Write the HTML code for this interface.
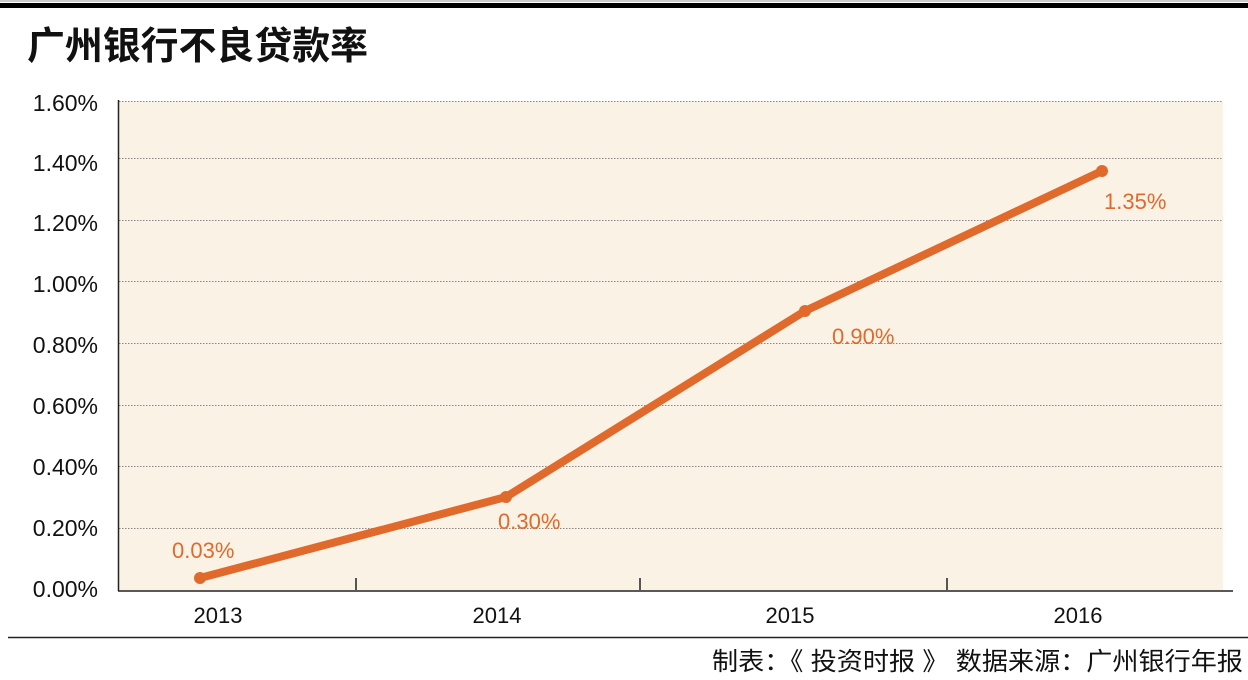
<!DOCTYPE html>
<html><head><meta charset="utf-8"><style>
body{margin:0;background:#fff;}
svg{display:block;}
</style></head><body>
<svg width="1248" height="680" xmlns="http://www.w3.org/2000/svg" font-family="'Liberation Sans','Noto Sans CJK SC',sans-serif">
<rect x="0" y="0" width="1248" height="2" fill="#ccc"/>
<rect x="0" y="3" width="1248" height="5" fill="#000"/>
<text x="27" y="59" font-size="38" font-weight="bold" fill="#111" textLength="341" lengthAdjust="spacingAndGlyphs">广州银行不良贷款率</text>
<rect x="119" y="101" width="1104" height="489" fill="#fbf2e6"/>
<g stroke="#888" stroke-width="1" stroke-dasharray="1.5,1.5">
<line x1="119" x2="1223" y1="101.5" y2="101.5"/>
<line x1="119" x2="1223" y1="158.5" y2="158.5"/>
<line x1="119" x2="1223" y1="220.5" y2="220.5"/>
<line x1="119" x2="1223" y1="281.5" y2="281.5"/>
<line x1="119" x2="1223" y1="343.5" y2="343.5"/>
<line x1="119" x2="1223" y1="405.5" y2="405.5"/>
<line x1="119" x2="1223" y1="466.5" y2="466.5"/>
<line x1="119" x2="1223" y1="528.5" y2="528.5"/>
</g>
<line x1="118.5" y1="100" x2="118.5" y2="591" stroke="#222" stroke-width="1.5"/>
<line x1="118" y1="591" x2="1233" y2="591" stroke="#222" stroke-width="1.5"/>
<g stroke="#222" stroke-width="1.5">
<line x1="356" y1="578" x2="356" y2="590"/>
<line x1="640" y1="578" x2="640" y2="590"/>
<line x1="947" y1="578" x2="947" y2="590"/>
</g>
<g font-size="23" fill="#111" text-anchor="end">
<text x="98" y="111">1.60%</text>
<text x="98" y="171">1.40%</text>
<text x="98" y="231">1.20%</text>
<text x="98" y="292">1.00%</text>
<text x="98" y="353">0.80%</text>
<text x="98" y="414">0.60%</text>
<text x="98" y="475">0.40%</text>
<text x="98" y="536">0.20%</text>
<text x="98" y="597">0.00%</text>
</g>
<g font-size="22" fill="#111" text-anchor="middle">
<text x="218" y="623">2013</text>
<text x="497" y="623">2014</text>
<text x="790" y="623">2015</text>
<text x="1078" y="623">2016</text>
</g>
<polyline points="200,578 506,497 805,311 1102,171" fill="none" stroke="#e06a2c" stroke-width="8" stroke-linejoin="round" stroke-linecap="round"/>
<g fill="#e06a2c">
<circle cx="200" cy="578" r="6"/><circle cx="506" cy="497" r="6"/><circle cx="805" cy="311" r="6"/><circle cx="1102" cy="171" r="6"/>
</g>
<g font-size="22" fill="#e06a2c">
<text x="172" y="558">0.03%</text>
<text x="498" y="529">0.30%</text>
<text x="832" y="344">0.90%</text>
<text x="1104" y="209">1.35%</text>
</g>
<line x1="8" y1="637.5" x2="1248" y2="637.5" stroke="#222" stroke-width="1.5"/>
<text x="1243" y="670" font-size="25" fill="#111" text-anchor="end" textLength="531" lengthAdjust="spacingAndGlyphs">制表：《 投资时报 》 数据来源：广州银行年报</text>
</svg>
</body></html>
